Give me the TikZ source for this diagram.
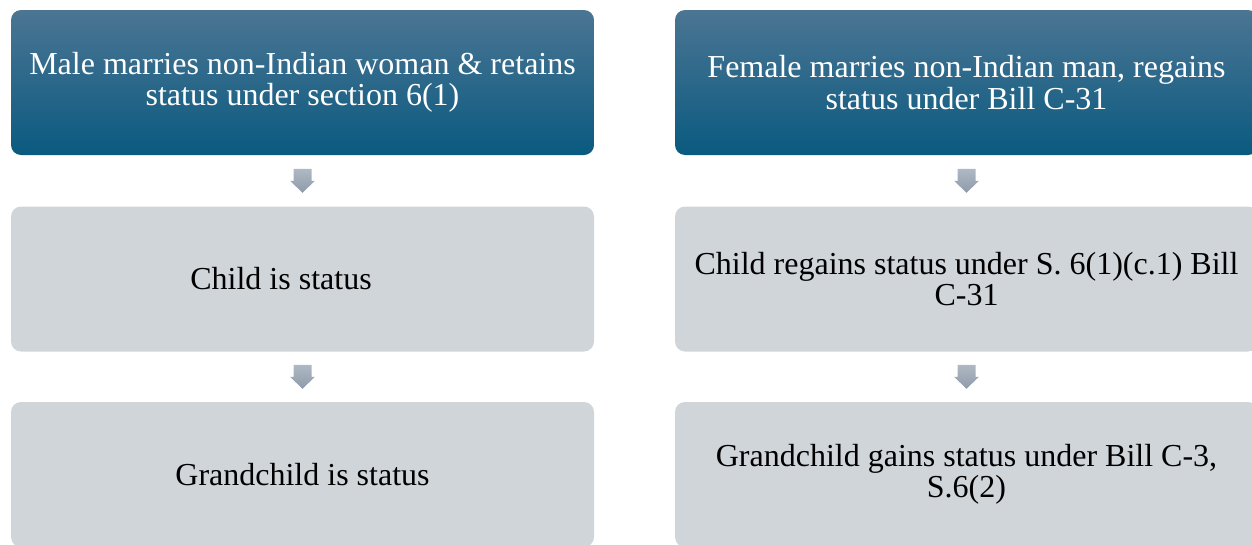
\documentclass[tikz,border=0pt]{standalone}
\usepackage{fontspec}
\setmainfont{Liberation Serif}
\usetikzlibrary{calc,positioning}

\definecolor{headtop}{HTML}{4B7593}
\definecolor{headbot}{HTML}{0A5A80}
\definecolor{stepgray}{HTML}{D0D5DA}
\definecolor{arrtop}{HTML}{AFB9C4}
\definecolor{arrbot}{HTML}{8E9BAA}

% block arrow half way between two boxes
\newcommand{\downarr}[2]{%
  \shade[top color=arrtop,bottom color=arrbot]
    ($(#1.south)!.5!(#2.north)$) ++(-9,-12) -- ++(18,0) -- ++(0,12) -- ++(3.5,0)
    -- ++(-12.5,12) -- ++(-12.5,-12) -- ++(3.5,0) -- cycle;}

\begin{document}
\begin{tikzpicture}
	[x=1pt,y=-1pt,
	headbox/.style={rectangle,rounded corners=10pt,shade,top color=headtop,bottom color=headbot,text=white,
		minimum width=583pt,minimum height=145pt,inner sep=0pt,align=center,font=\fontsize{32}{31.5}\selectfont},
	stepbox/.style={rectangle,rounded corners=10pt,fill=stepgray,text=black,
		minimum width=583pt,minimum height=145pt,inner sep=0pt,align=center,font=\fontsize{32}{31.5}\selectfont}]
	\useasboundingbox (0,0) rectangle (1252,544);
	\clip (0,0) rectangle (1252,544);
	% left column
	\node (male) at (302.5,82.5) [headbox] {Male marries non-Indian woman \& retains\\status under section 6(1)};
	\node (mchild) at (302.5,279) [stepbox] {Child is status\hspace*{43pt}};
	\node (mgrand) at (302.5,474.5) [stepbox] {Grandchild is status};
	% right column
	\node (female) at (966.5,82.5) [headbox] {Female marries non-Indian man, regains\\status under Bill C-31};
	\node (fchild) at (966.5,279) [stepbox] {Child regains status under S. 6(1)(c.1) Bill\\C-31};
	\node (fgrand) at (966.5,474.5) [stepbox] {Grandchild gains status under Bill C-3,\\S.6(2)};
	\downarr{male}{mchild}
	\downarr{mchild}{mgrand}
	\downarr{female}{fchild}
	\downarr{fchild}{fgrand}
\end{tikzpicture}
\end{document}
